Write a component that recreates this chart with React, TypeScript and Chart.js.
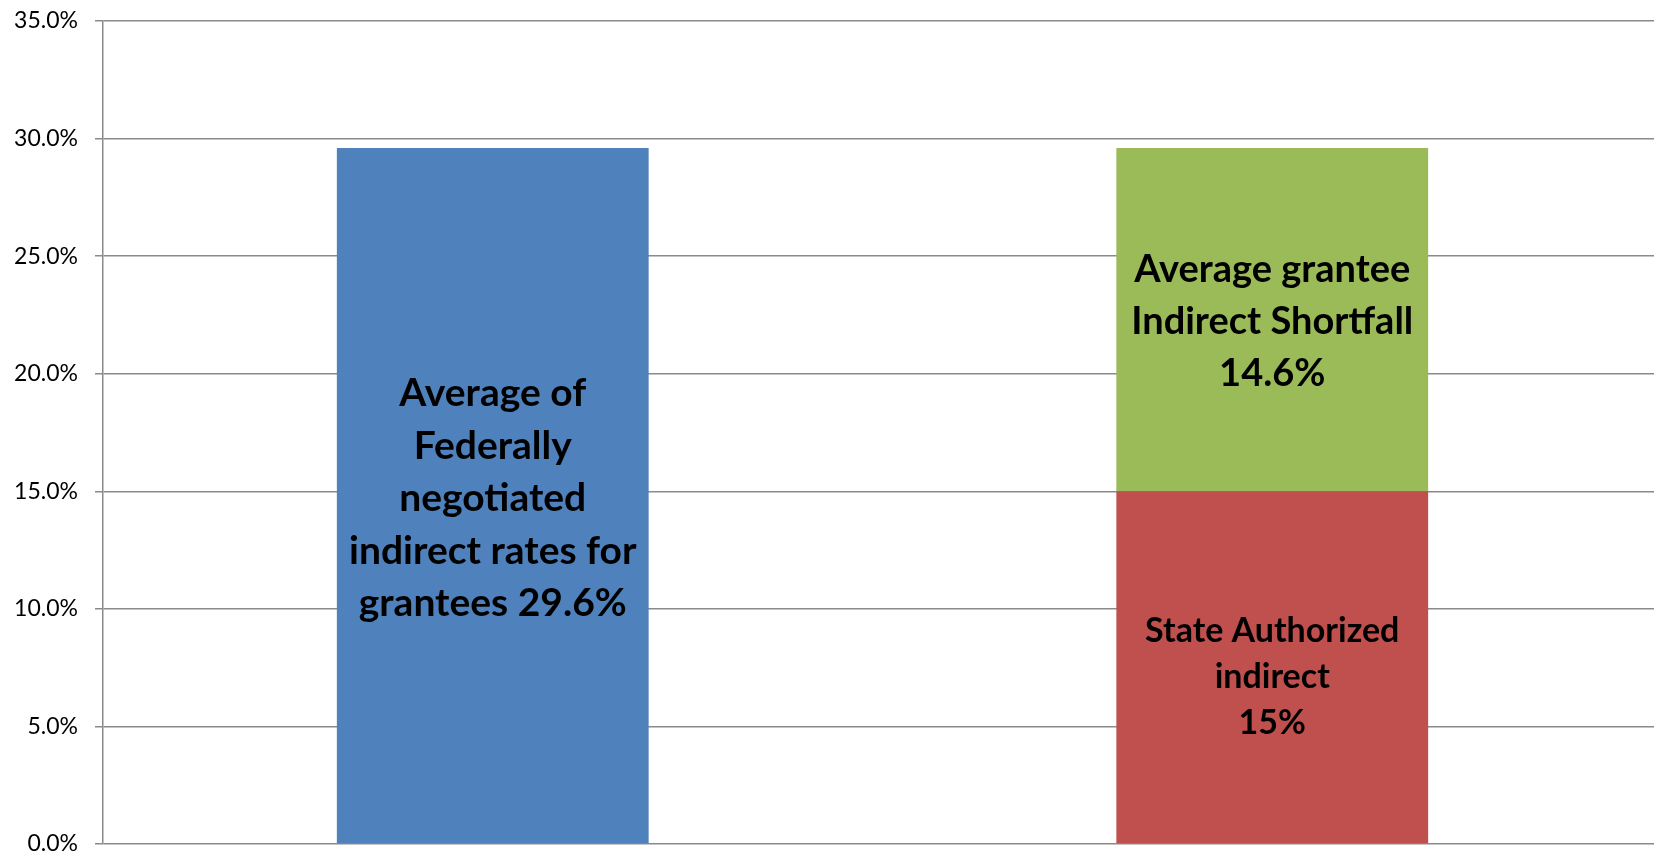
import React, { useEffect, useRef } from "react";
import { Chart, registerables } from "chart.js";

Chart.register(...registerables);

const categories = ["Federal", "State"];
const federalRate = [29.6, null];
const stateAuthorized = [null, 15];
const shortfall = [null, 14.6];
const yTicks = { min: 0, max: 35, step: 5 };

const federalLabel = ["Average of", "Federally", "negotiated", "indirect rates for", "grantees 29.6%"];
const stateLabel = ["State Authorized", "indirect", "15%"];
const shortfallLabel = ["Average grantee", "Indirect Shortfall", "14.6%"];

const FONT = "Lato, 'Open Sans', sans-serif";
const GRID = "#8a8a8a";

const labelPlugin = {
  id: "barLabels",
  afterDatasetsDraw(chart: any) {
    const ctx = chart.ctx;
    const specs = [
      { ds: 0, idx: 0, lines: federalLabel, size: 39, lh: 52.5, shift: 3 },
      { ds: 1, idx: 1, lines: stateLabel, size: 34, lh: 46, shift: 10 },
      { ds: 2, idx: 1, lines: shortfallLabel, size: 38, lh: 52, shift: 2 },
    ];
    ctx.save();
    ctx.fillStyle = "#000";
    ctx.textAlign = "center";
    ctx.textBaseline = "middle";
    for (const s of specs) {
      const el = chart.getDatasetMeta(s.ds).data[s.idx];
      if (!el) continue;
      const { x, y, base } = el.getProps(["x", "y", "base"], true);
      const cy = (y + base) / 2 + s.shift;
      ctx.font = `bold ${s.size}px ${FONT}`;
      const n = s.lines.length;
      s.lines.forEach((t: string, i: number) => {
        ctx.fillText(t, x, cy + (i - (n - 1) / 2) * s.lh);
      });
    }
    ctx.restore();
  },
};

export default function App() {
  const ref = useRef<HTMLCanvasElement>(null);
  useEffect(() => {
    if (!ref.current) return;
    const chart = new Chart(ref.current, {
      type: "bar",
      data: {
        labels: categories,
        datasets: [
          { label: "Federal", data: federalRate as any, backgroundColor: "#4F81BD", barPercentage: 0.4, categoryPercentage: 1 },
          { label: "State Authorized", data: stateAuthorized as any, backgroundColor: "#C0504D", barPercentage: 0.4, categoryPercentage: 1 },
          { label: "Shortfall", data: shortfall as any, backgroundColor: "#9BBB59", barPercentage: 0.4, categoryPercentage: 1 },
        ],
      },
      options: {
        animation: false,
        responsive: false,
        maintainAspectRatio: false,
        layout: { padding: { top: 21, bottom: 9, right: 0, left: 0 } },
        plugins: { legend: { display: false }, tooltip: { enabled: false } },
        scales: {
          x: { stacked: true, display: false },
          y: {
            stacked: true,
            min: yTicks.min,
            max: yTicks.max,
            ticks: {
              stepSize: yTicks.step,
              color: "#000",
              font: { family: FONT, size: 23 },
              padding: 17,
              callback: (v: any) => Number(v).toFixed(1) + "%",
            },
            grid: { color: GRID, lineWidth: 1.5, tickLength: 8 },
            border: { display: true, color: GRID, width: 1.5 },
            afterFit: (scale: any) => {
              scale.width = 103;
              scale.paddingTop = 0;
              scale.paddingBottom = 0;
            },
          },
        },
      },
      plugins: [labelPlugin],
    });
    return () => chart.destroy();
  }, []);
  return (
    <div style={{ position: "fixed", left: 0, top: 0, width: 1654, height: 853, overflow: "hidden", background: "#fff" }}>
      <canvas ref={ref} width={1662} height={853} style={{ width: 1662, height: 853, display: "block" }} />
    </div>
  );
}
